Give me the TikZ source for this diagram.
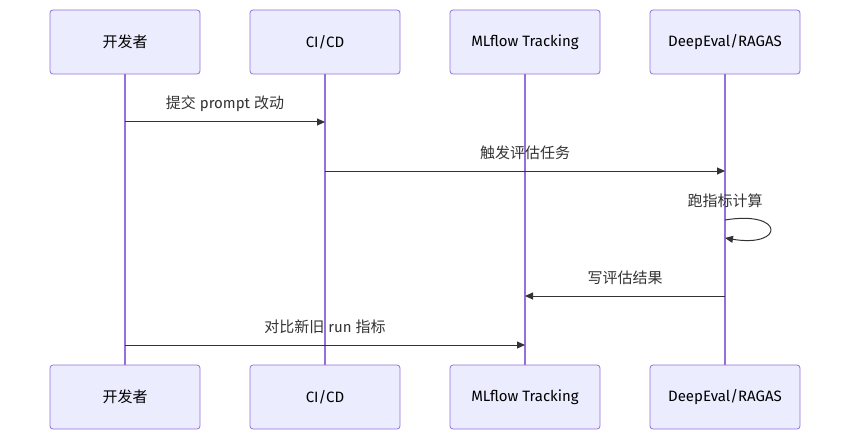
\documentclass[tikz,border=0pt]{standalone}
\usepackage{fontspec}
\setmainfont{Fira Sans}
\newfontfamily\cjk{Noto Sans CJK SC}
\usetikzlibrary{arrows.meta}
\definecolor{boxfill}{HTML}{ECECFF}
\definecolor{boxline}{HTML}{9370DB}
\definecolor{msg}{HTML}{333333}
\begin{document}
\begin{tikzpicture}[x=1pt,y=-1pt,
  actor/.style={draw=boxline,fill=boxfill,rounded corners=3pt,minimum width=150pt,minimum height=64pt,inner sep=0pt,font=\fontsize{15}{17}\selectfont,text=black,line width=0.8pt},
  life/.style={draw=boxline,line width=1.2pt},
  m/.style={draw=msg,line width=1pt,-{Triangle[length=8pt,width=7pt]}},
  lbl/.style={font=\fontsize{15}{17}\selectfont,text=msg}]
\useasboundingbox (0,0) rectangle (851,441);
\node[actor] (at) at (125,42) {\cjk 开发者};
\node[actor] (ab) at (125,397) {\cjk 开发者};
\node[actor] (bt) at (325,42) {CI/CD};
\node[actor] (bb) at (325,397) {CI/CD};
\node[actor] (ct) at (525,42) {MLflow Tracking};
\node[actor] (cb) at (525,397) {MLflow Tracking};
\node[actor] (dt) at (725,42) {DeepEval/RAGAS};
\node[actor] (db) at (725,397) {DeepEval/RAGAS};
\foreach \n in {a,b,c,d}{\draw[life] (\n t.south) -- (\n b.north);}
\coordinate (a1) at (125,122); \coordinate (b1) at (325,122);
\draw[m] (a1) -- (b1);
\node[lbl] (l1) at (225,104) {{\cjk 提交} prompt {\cjk 改动}};
\coordinate (b2) at (325,171); \coordinate (d2) at (725,171);
\draw[m] (b2) -- (d2);
\node[lbl] (l2) at (525,153) {\cjk 触发评估任务};
\coordinate (d3) at (725,220); \coordinate (d3e) at (725,238);
\draw[m] (d3) .. controls (785,210) and (785,248) .. (d3e);
\node[lbl] (l3) at (725,201) {\cjk 跑指标计算};
\coordinate (d4) at (725,296); \coordinate (c4) at (525,296);
\draw[m] (d4) -- (c4);
\node[lbl] (l4) at (625,278) {\cjk 写评估结果};
\coordinate (a5) at (125,345); \coordinate (c5) at (525,345);
\draw[m] (a5) -- (c5);
\node[lbl] (l5) at (325,327) {{\cjk 对比新旧} run {\cjk 指标}};
\end{tikzpicture}
\end{document}
